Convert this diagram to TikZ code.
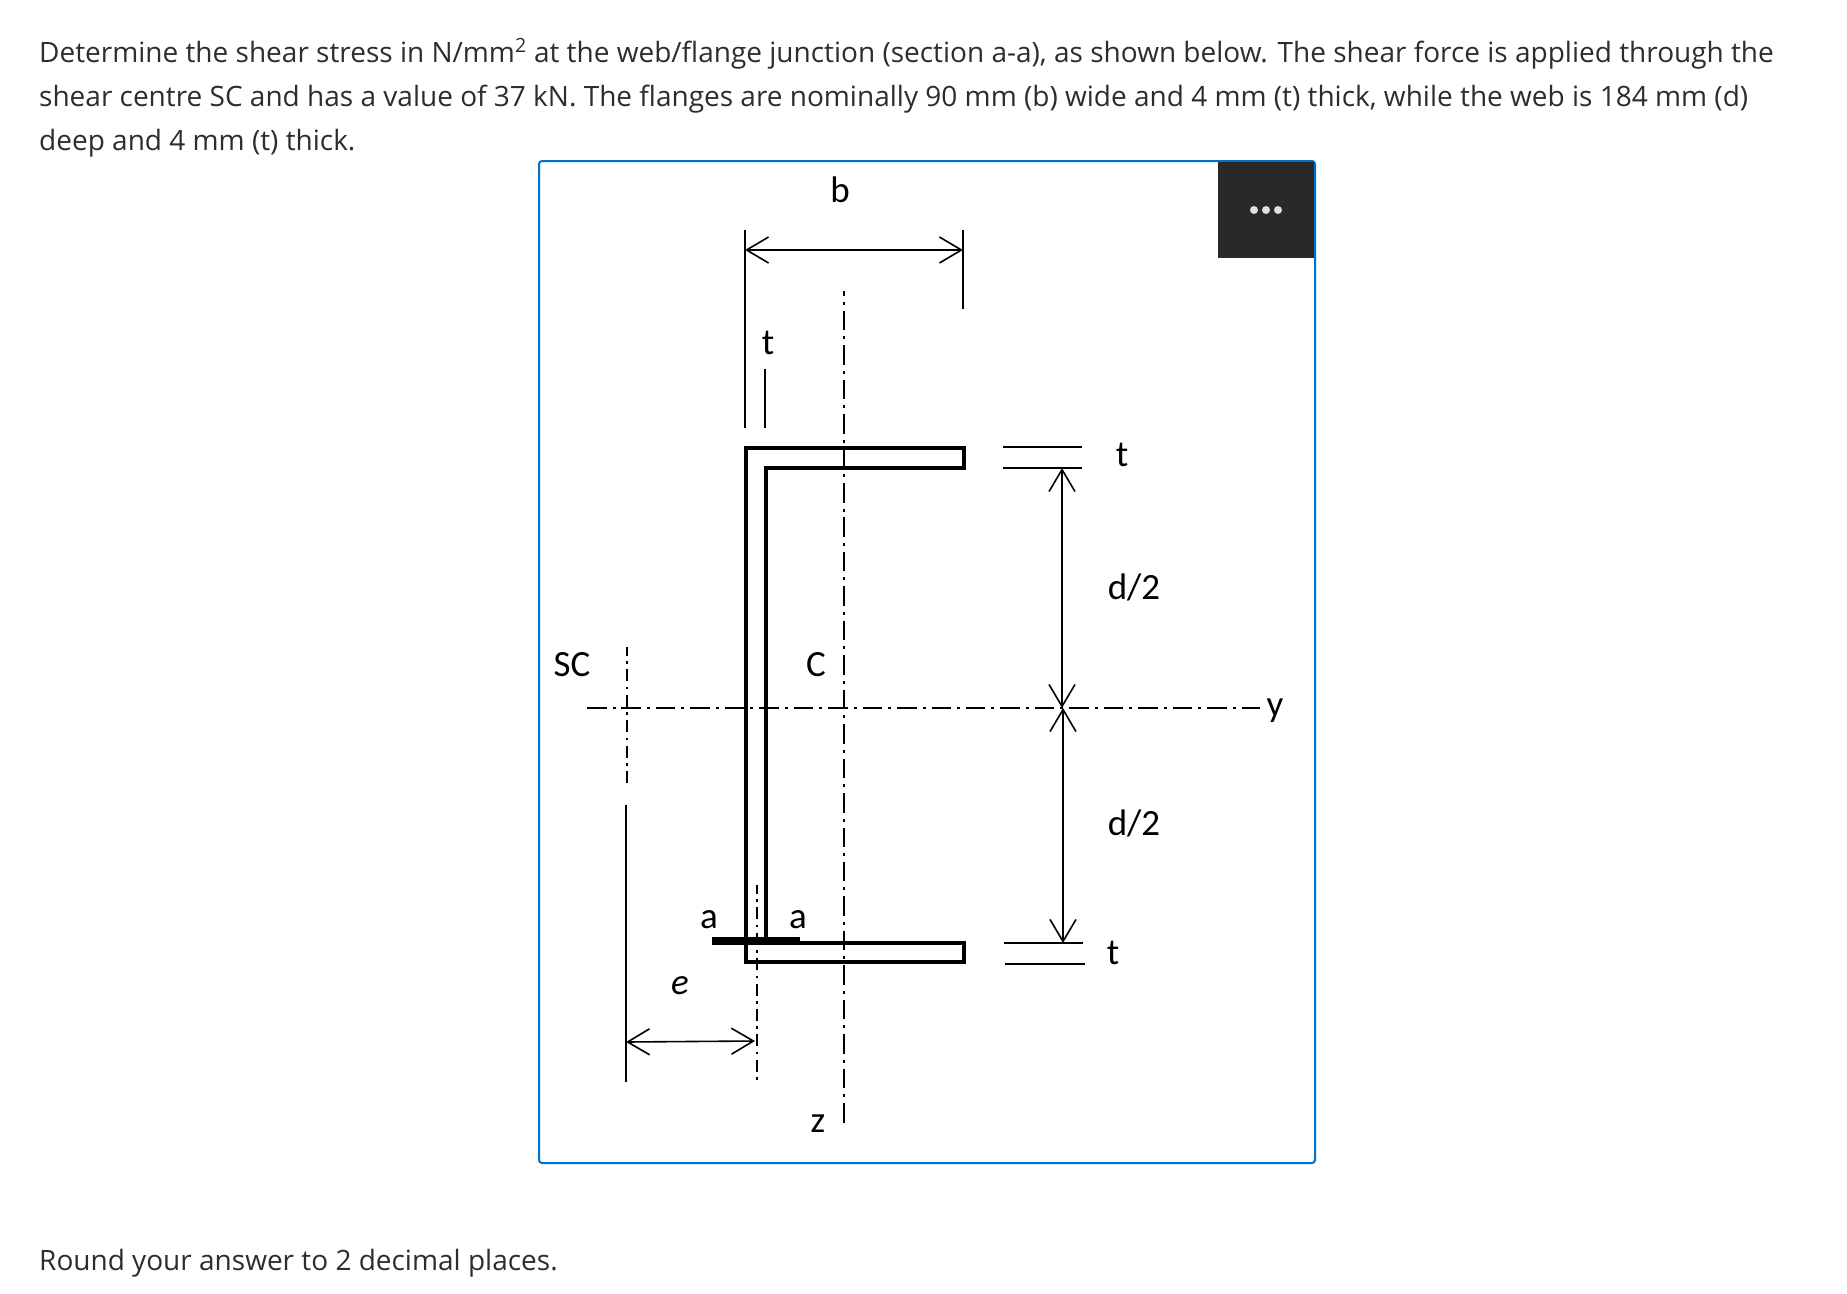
\documentclass[tikz,border=0pt]{standalone}
\usepackage{fontspec}
\setmainfont{Open Sans}
\newfontfamily\labelfont{Carlito}
\usetikzlibrary{arrows.meta}
\definecolor{panelblue}{HTML}{0070C9}
\definecolor{menudark}{HTML}{292929}
\definecolor{bodygrey}{HTML}{2D2D2D}
\tikzset{
  bodytext/.style={anchor=base west,inner sep=0pt,text=bodygrey,font=\fontsize{28}{32}\selectfont},
  dimlabel/.style={inner sep=0pt,font=\labelfont\fontsize{37}{41}\selectfont},
  thinline/.style={line width=1.6pt},
  dimarrow/.style={line width=1.6pt,{Straight Barb[length=22pt,width=26pt]}-{Straight Barb[length=22pt,width=26pt]}},
  axisline/.style={line width=2pt,dash pattern=on 19.5pt off 6pt on 3pt off 5.95pt},
  shortaxis/.style={line width=2pt,dash phase=3pt,dash pattern=on 12pt off 5.45pt on 2.5pt off 5.45pt},
  sectionline/.style={line width=3.4pt,line join=miter},
  menudot/.style={circle,fill=black!12,inner sep=0pt,minimum size=8pt}
}

\begin{document}
\begin{tikzpicture}[x=1pt,y=-1pt]
      \useasboundingbox (0,0) rectangle (1847,1293);

      \node[bodytext] (line1) at (39,62){Determine the shear stress in N/mm\textsuperscript{2} at the web/flange junction (section a-a), as shown below. The shear force is applied through the};
      \node[bodytext] (line2) at (39,106){shear centre SC and has a value of 37 kN. The flanges are nominally 90 mm (b) wide and 4 mm (t) thick, while the web is 184 mm (d)};
      \node[bodytext] (line3) at (39,150){deep and 4 mm (t) thick.};
      \node[bodytext] (line4) at (39,1270){Round your answer to 2 decimal places.};

      % panel and menu button
      \draw[panelblue,line width=2pt,rounded corners=3pt] (539,161) rectangle (1315,1163);
      \node[fill=menudark,minimum width=96pt,minimum height=96pt,inner sep=0pt] (menu) at (1266,210){};
      \node[menudot] (d1) at (1254,210){};
      \node[menudot] (d2) at (1266,210){};
      \node[menudot] (d3) at (1278,210){};

      % channel section
      \draw[sectionline] (766,943)--(766,468)--(964,468)--(964,448)--(746,448)--(746,962)--(964,962)--(964,943)--cycle;
      \draw[line width=7.5pt] (712,941)--(800,941);

      % end points of the lines
      \coordinate (bl1) at (745,230);
      \coordinate (bl2) at (745,428);
      \coordinate (br1) at (963,230);
      \coordinate (br2) at (963,309);
      \coordinate (ba) at (745,250);
      \coordinate (bb) at (963,250);
      \coordinate (tl1) at (765,369);
      \coordinate (tl2) at (765,428);
      \coordinate (z1) at (844,291);
      \coordinate (z2) at (844,1123);
      \coordinate (y1) at (587,708);
      \coordinate (y2) at (1260,708);
      \coordinate (sc1) at (627,647);
      \coordinate (sc2) at (627,783);
      \coordinate (sc3) at (626,805);
      \coordinate (sc4) at (626,1082);
      \coordinate (aa1) at (757,885);
      \coordinate (aa2) at (757,1080);
      \coordinate (ea) at (626,1042);
      \coordinate (eb) at (755,1041);
      \coordinate (ft1) at (1003,447);
      \coordinate (ft2) at (1082,447);
      \coordinate (ft3) at (1003,468);
      \coordinate (ft4) at (1082,468);
      \coordinate (fb1) at (1004,943);
      \coordinate (fb2) at (1083,943);
      \coordinate (fb3) at (1005,964);
      \coordinate (fb4) at (1085,964);
      \coordinate (da) at (1062,468);
      \coordinate (db) at (1062,708);
      \coordinate (dc) at (1063,708);
      \coordinate (dd) at (1063,943);

      \draw[thinline](bl1)--(bl2);
      \draw[thinline](br1)--(br2);
      \draw[thinline](tl1)--(tl2);
      \draw[thinline](sc3)--(sc4);
      \draw[thinline](ft1)--(ft2);
      \draw[thinline](ft3)--(ft4);
      \draw[thinline](fb1)--(fb2);
      \draw[thinline](fb3)--(fb4);
      \draw[dimarrow](ba)--(bb);
      \draw[dimarrow](ea)--(eb);
      \draw[dimarrow](da)--(db);
      \draw[dimarrow](dc)--(dd);
      \draw[axisline,dash phase=14.7pt](z1)--(z2);
      \draw[axisline](y1)--(y2);
      \draw[shortaxis](sc1)--(sc2);
      \draw[shortaxis](aa1)--(aa2);

      % labels
      \node[dimlabel] (lb) at (840,190){b};
      \node[dimlabel] (lt1) at (768,343){t};
      \node[dimlabel] (lt2) at (1122,455){t};
      \node[dimlabel] (lt3) at (1113,953){t};
      \node[dimlabel] (ld1) at (1134,587){d/2};
      \node[dimlabel] (ld2) at (1134,823){d/2};
      \node[dimlabel] (lsc) at (572,665){SC};
      \node[dimlabel] (lc) at (816,665){C};
      \node[dimlabel] (ly) at (1275,711){y};
      \node[dimlabel] (la1) at (709,920){a};
      \node[dimlabel] (la2) at (798,920){a};
      \node[dimlabel] (le) at (680,986){\itshape e};
      \node[dimlabel] (lz) at (818,1124){z};
    \end{tikzpicture}
\end{document}
